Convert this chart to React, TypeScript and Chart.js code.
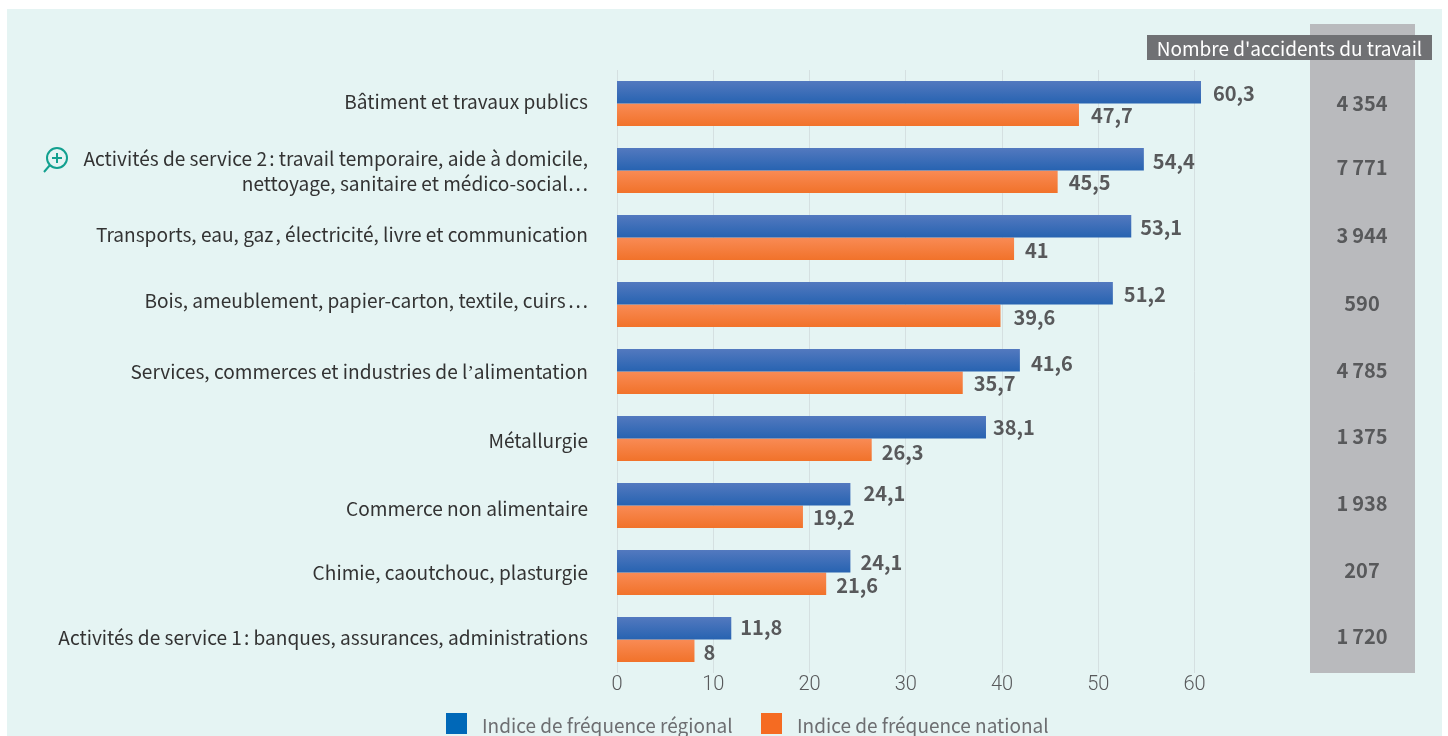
import React, { useEffect, useRef } from "react";
import { Chart, registerables } from "chart.js";

Chart.register(...registerables);

const categories: string[][] = [
  ["Bâtiment et travaux publics"],
  ["Activités de service 2\u202F: travail temporaire, aide à domicile,", "nettoyage, sanitaire et médico-social…"],
  ["Transports, eau, gaz\u202F, électricité, livre et communication"],
  ["Bois, ameublement, papier-carton, textile, cuirs\u202F…"],
  ["Services, commerces et industries de l\u02BCalimentation"],
  ["Métallurgie"],
  ["Commerce non alimentaire"],
  ["Chimie, caoutchouc, plasturgie"],
  ["Activités de service 1\u202F: banques, assurances, administrations"],
];
const regional = [60.3, 54.4, 53.1, 51.2, 41.6, 38.1, 24.1, 24.1, 11.8];
const national = [47.7, 45.5, 41, 39.6, 35.7, 26.3, 19.2, 21.6, 8];
const accidents = ["4\u2009354", "7\u2009771", "3\u2009944", "590", "4\u2009785", "1\u2009375", "1\u2009938", "207", "1\u2009720"];
const axisTicks = [0, 10, 20, 30, 40, 50, 60];

const seriesNames = ["Indice de fréquence régional", "Indice de fréquence national"];
const columnTitle = "Nombre d'accidents du travail";

// Styling and small layout adjustments
const legendColors = ["#0068b8", "#f56b22"];
const blueStops = ["#5379bf", "#2763b1"];
const orangeStops = ["#f98b55", "#f1722a"];
const labelNudge = [-1.5, 0.5, -2.5, -4, 0, 2, 3, 0, -2];
const columnNudge = [-0.5, -3, -2, -1.5, -1.5, -2.5, -2.5, -2.5, -3.5];
const blueDx = [12, 9, 9, 11, 11, 7, 13, 10, 9];
const orangeDx = [12, 11, 11, 13, 11, 10, 10, 10, 9];
const blueDy = [0.5, 1.5, 0.5, 0.5, 2.5, -0.5, -1.5, 0.5, -1.5];
const orangeDy = [-1, -1, -0.5, -0.5, -1.5, 0.5, -1.5, -0.5, -0.5];

const SANS = '"Noto Sans CJK SC"';

const fmt = (v: number) => String(v).replace(".", ",");

const decorPlugin = {
  id: "decor",
  beforeDraw(chart: any) {
    const c = chart.ctx;
    c.save();
    c.fillStyle = "#ffffff";
    c.fillRect(0, 0, 1448, 736);
    c.fillStyle = "#e5f4f3";
    c.fillRect(7, 9, 1435, 727);
    c.fillStyle = "#b9babd";
    c.fillRect(1310, 24, 105, 649);
    c.restore();
  },
  afterDraw(chart: any) {
    const c = chart.ctx;
    const y = chart.scales.y;
    const xBar = chart.scales.xBar;
    c.save();
    c.textBaseline = "middle";

    // category labels
    c.textAlign = "right";
    c.fillStyle = "#333333";
    c.font = `19.1px ${SANS}`;
    categories.forEach((lines, i) => {
      const cy = y.getPixelForTick(i) + labelNudge[i];
      lines.forEach((line, k) => {
        c.fillText(line, 588, cy + (k - (lines.length - 1) / 2) * 25);
      });
    });

    // value labels
    c.textAlign = "left";
    c.fillStyle = "#58595b";
    c.font = `700 20px ${SANS}`;
    regional.forEach((v, i) => {
      const cy = y.getPixelForTick(i);
      c.fillText(fmt(v), xBar.getPixelForValue(v) + blueDx[i], cy - 11 + blueDy[i]);
      const n = national[i];
      c.fillText(fmt(n), xBar.getPixelForValue(n) + orangeDx[i], cy + 13 + orangeDy[i]);
    });

    // accident counts
    c.textAlign = "center";
    accidents.forEach((t, i) => {
      c.fillText(t, 1362, y.getPixelForTick(i) + columnNudge[i]);
    });

    // column title
    c.fillStyle = "#707174";
    c.fillRect(1147, 35, 285, 25);
    c.fillStyle = "#ffffff";
    c.font = `19px ${SANS}`;
    c.fillText(columnTitle, 1289.5, 48.5);

    // legend
    c.textAlign = "left";
    c.font = `19px ${SANS}`;
    const lx = [446, 761];
    seriesNames.forEach((name, i) => {
      c.fillStyle = legendColors[i];
      c.fillRect(lx[i], 713, 21, 21);
      c.fillStyle = "#6d6e71";
      c.fillText(name, lx[i] + 36, 726);
    });

    // zoom icon
    c.strokeStyle = "#12a08f";
    c.lineWidth = 2;
    c.beginPath();
    c.arc(57, 158, 10, 0, Math.PI * 2);
    c.moveTo(57, 153);
    c.lineTo(57, 163);
    c.moveTo(52, 158);
    c.lineTo(62, 158);
    c.moveTo(50, 165);
    c.lineTo(44, 172);
    c.stroke();
    c.restore();
  },
};

function barGradient(stops: string[], top: boolean) {
  return (ctx: any) => {
    const chart = ctx.chart;
    const y = chart.scales.y;
    if (!y || ctx.dataIndex === undefined) return stops[1];
    const mid = y.getPixelForTick(ctx.dataIndex);
    const y0 = top ? mid - 22.5 : mid;
    const g = chart.ctx.createLinearGradient(0, y0, 0, y0 + 22.5);
    g.addColorStop(0, stops[0]);
    g.addColorStop(1, stops[1]);
    return g;
  };
}

export default function App() {
  const ref = useRef<HTMLCanvasElement>(null);
  useEffect(() => {
    const chart = new Chart(ref.current as HTMLCanvasElement, {
      type: "bar",
      data: {
        labels: categories.map((l) => l.join(" ")),
        datasets: [
          { label: seriesNames[0], data: regional, xAxisID: "xBar", clip: false, backgroundColor: barGradient(blueStops, true) as any },
          { label: seriesNames[1], data: national, xAxisID: "xBar", clip: false, backgroundColor: barGradient(orangeStops, false) as any },
        ],
      },
      options: {
        indexAxis: "y",
        responsive: false,
        animation: false,
        layout: { padding: { left: 617, right: 253.5, top: 70, bottom: 33 } },
        datasets: { bar: { categoryPercentage: 0.672, barPercentage: 1 } },
        plugins: { legend: { display: false }, tooltip: { enabled: false } },
        scales: {
          y: { display: false },
          xBar: { axis: "x", type: "linear", display: false, min: 0, max: 59.63 },
          x: {
            axis: "x",
            type: "linear",
            position: "bottom",
            min: 0,
            max: 60,
            afterBuildTicks: (s: any) => {
              s.ticks = axisTicks.map((value) => ({ value }));
            },
            afterFit: (s: any) => {
              s.height = 30;
            },
            border: { display: false },
            grid: { color: "#d5e0e1", lineWidth: 1, drawTicks: false },
            ticks: {
              padding: 0,
              maxRotation: 0,
              color: "#58595b",
              font: { family: "Roboto", size: 20, weight: "300" },
            },
          },
        } as any,
      },
      plugins: [decorPlugin],
    });
    return () => chart.destroy();
  }, []);
  return <canvas ref={ref} width={1448} height={736} style={{ position: "fixed", left: 0, top: 0, display: "block", width: 1448, height: 736 }} />;
}
